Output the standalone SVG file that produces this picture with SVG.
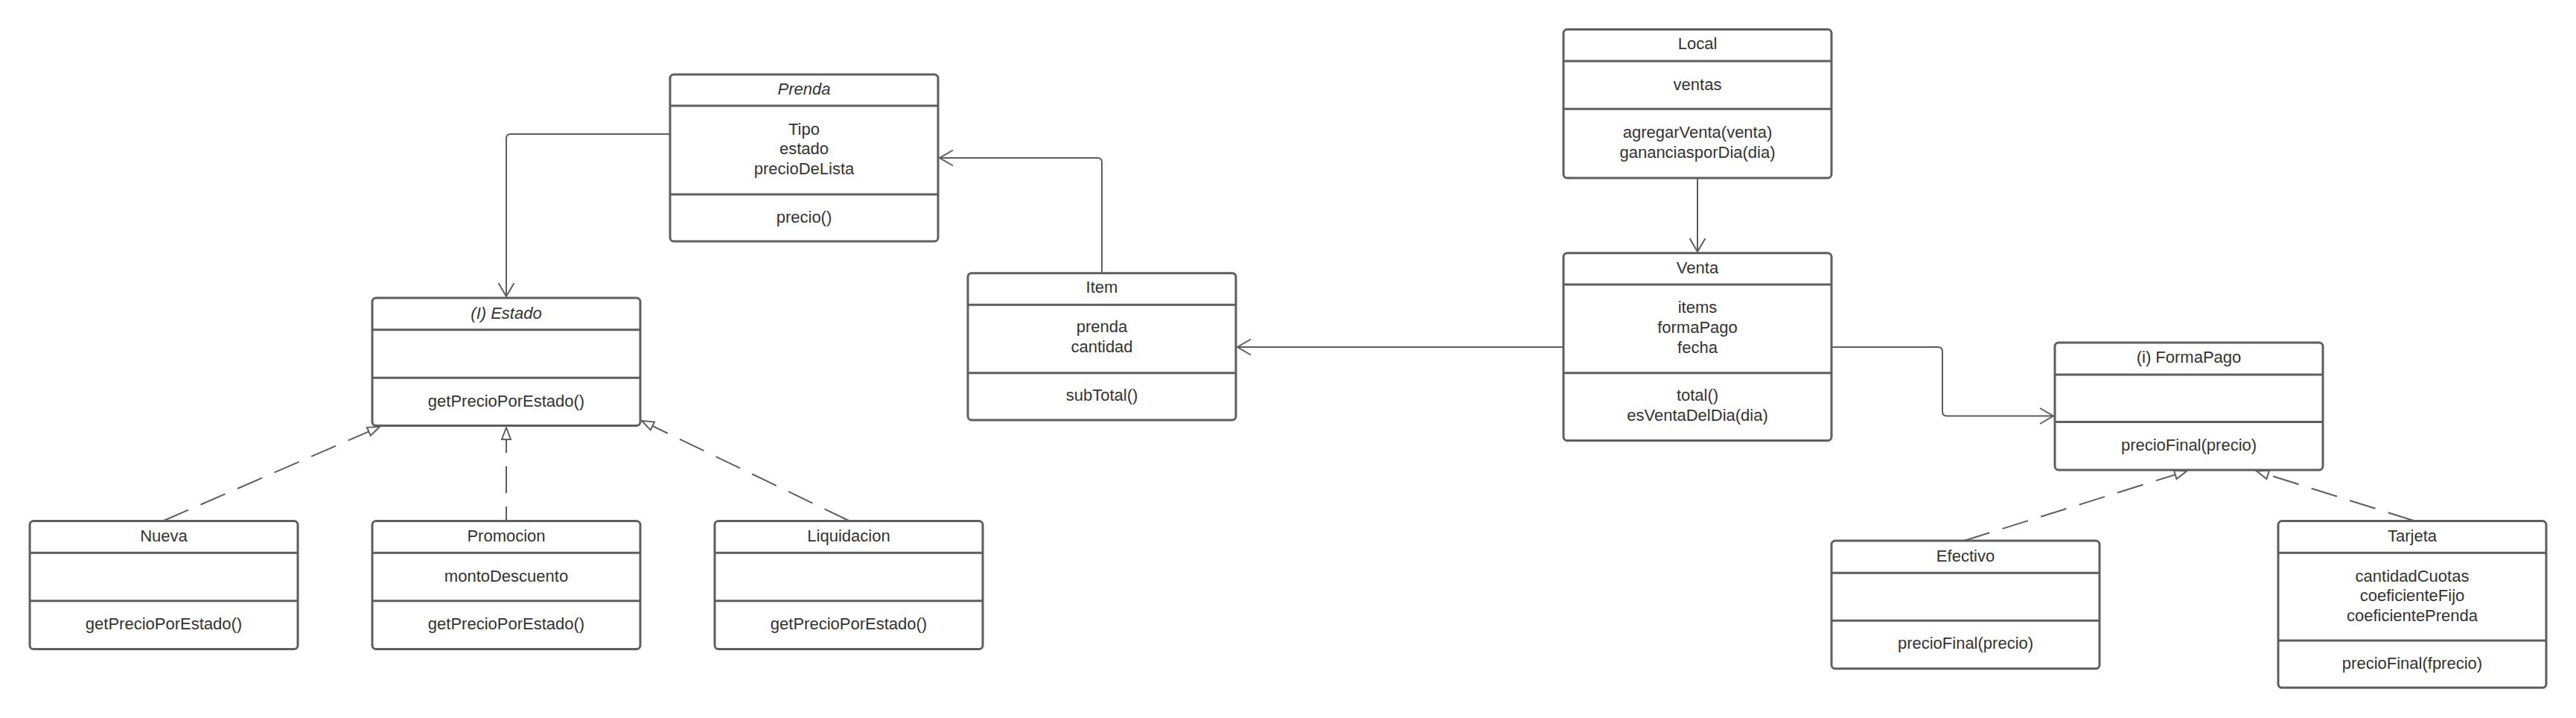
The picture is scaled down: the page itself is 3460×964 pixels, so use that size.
<svg xmlns="http://www.w3.org/2000/svg" width="3460" height="964" viewBox="0 0 3460 964">
<style>
.box rect{fill:#fff;stroke:#5e5e5e;stroke-width:3}
.box line{stroke:#5e5e5e;stroke-width:3}
text{font-family:"Liberation Sans",Arial,sans-serif;font-size:22px;fill:#333;text-anchor:middle}
.it{font-style:italic}
.conn{fill:none;stroke:#5e5e5e;stroke-width:2}
.dash{stroke-dasharray:36 18}
</style>
<defs>
<marker id="open" markerUnits="userSpaceOnUse" viewBox="-20 -12 22 24" refX="0" refY="0" markerWidth="22" markerHeight="24" orient="auto" overflow="visible">
<path d="M-18,-10.5 L0,0 L-18,10.5" fill="none" stroke="#5e5e5e" stroke-width="2"/>
</marker>
<marker id="tri" markerUnits="userSpaceOnUse" viewBox="-18 -8 20 16" refX="0" refY="0" markerWidth="20" markerHeight="16" orient="auto" overflow="visible">
<path d="M0,0 L-16,-6 L-16,6 Z" fill="#fff" stroke="#5e5e5e" stroke-width="2"/>
</marker>
</defs>
<rect width="3460" height="964" fill="#fff"/>
<g id="connectors">
<path class="conn" d="M900,180 H686 Q680,180 680,186 V398" marker-end="url(#open)"/>
<path class="conn" d="M1480,366 V218 Q1480,212 1474,212 H1262" marker-end="url(#open)"/>
<path class="conn" d="M2280,239 V338" marker-end="url(#open)"/>
<path class="conn" d="M2100,466 H1662" marker-end="url(#open)"/>
<path class="conn" d="M2460,466 H2603 Q2609,466 2609,472 V552.5 Q2609,558.5 2615,558.5 H2758" marker-end="url(#open)"/>
<path class="conn dash" d="M220,699 L510,573" marker-end="url(#tri)"/>
<path class="conn dash" d="M680,699 L680,574" stroke-dashoffset="17" marker-end="url(#tri)"/>
<path class="conn dash" d="M1140,699 L862,565" marker-end="url(#tri)"/>
<path class="conn dash" d="M2638,726 L2937,632.5" marker-end="url(#tri)"/>
<path class="conn dash" d="M3242,699 L3031,632.5" marker-end="url(#tri)"/>
</g>
<g id="prenda" class="box">
<rect x="900" y="100" width="360" height="224" rx="5"/>
<line x1="900" y1="142" x2="1260" y2="142"/>
<line x1="900" y1="261" x2="1260" y2="261"/>
<text x="1080" y="127" class="it">Prenda</text>
<text x="1080" y="180.5">Tipo</text>
<text x="1080" y="207">estado</text>
<text x="1080" y="233.5">precioDeLista</text>
<text x="1080" y="298.5">precio()</text>
</g>
<g id="estado" class="box">
<rect x="500" y="400" width="360" height="171.5" rx="5"/>
<line x1="500" y1="442.7" x2="860" y2="442.7"/>
<line x1="500" y1="507.3" x2="860" y2="507.3"/>
<text x="680" y="428" class="it">(I) Estado</text>
<text x="680" y="546">getPrecioPorEstado()</text>
</g>
<g id="nueva" class="box">
<rect x="40" y="699.5" width="360" height="172" rx="5"/>
<line x1="40" y1="742.3" x2="400" y2="742.3"/>
<line x1="40" y1="806.7" x2="400" y2="806.7"/>
<text x="220" y="727.3">Nueva</text>
<text x="220" y="844.7">getPrecioPorEstado()</text>
</g>
<g id="promocion" class="box">
<rect x="500" y="699.5" width="360" height="172" rx="5"/>
<line x1="500" y1="742.3" x2="860" y2="742.3"/>
<line x1="500" y1="806.7" x2="860" y2="806.7"/>
<text x="680" y="727.3">Promocion</text>
<text x="680" y="780.7">montoDescuento</text>
<text x="680" y="844.7">getPrecioPorEstado()</text>
</g>
<g id="liquidacion" class="box">
<rect x="960" y="699.5" width="360" height="172" rx="5"/>
<line x1="960" y1="742.3" x2="1320" y2="742.3"/>
<line x1="960" y1="806.7" x2="1320" y2="806.7"/>
<text x="1140" y="727.3">Liquidacion</text>
<text x="1140" y="844.7">getPrecioPorEstado()</text>
</g>
<g id="item" class="box">
<rect x="1300" y="366.7" width="360" height="197.3" rx="5"/>
<line x1="1300" y1="409.3" x2="1660" y2="409.3"/>
<line x1="1300" y1="500.7" x2="1660" y2="500.7"/>
<text x="1480" y="393">Item</text>
<text x="1480" y="446.3">prenda</text>
<text x="1480" y="473">cantidad</text>
<text x="1480" y="538">subTotal()</text>
</g>
<g id="local" class="box">
<rect x="2100" y="39.5" width="360" height="199.5" rx="5"/>
<line x1="2100" y1="82" x2="2460" y2="82"/>
<line x1="2100" y1="146.3" x2="2460" y2="146.3"/>
<text x="2280" y="66.3">Local</text>
<text x="2280" y="121">ventas</text>
<text x="2280" y="185">agregarVenta(venta)</text>
<text x="2280" y="211.7">gananciasporDia(dia)</text>
</g>
<g id="venta" class="box">
<rect x="2100" y="339.8" width="360" height="251.6" rx="5"/>
<line x1="2100" y1="382" x2="2460" y2="382"/>
<line x1="2100" y1="500.7" x2="2460" y2="500.7"/>
<text x="2280" y="366.7">Venta</text>
<text x="2280" y="420.3">items</text>
<text x="2280" y="447">formaPago</text>
<text x="2280" y="473.7">fecha</text>
<text x="2280" y="538.1">total()</text>
<text x="2280" y="564.6">esVentaDelDia(dia)</text>
</g>
<g id="formapago" class="box">
<rect x="2760" y="460" width="360" height="171" rx="5"/>
<line x1="2760" y1="503" x2="3120" y2="503"/>
<line x1="2760" y1="566.5" x2="3120" y2="566.5"/>
<text x="2940" y="487.2">(i) FormaPago</text>
<text x="2940" y="604.7">precioFinal(precio)</text>
</g>
<g id="efectivo" class="box">
<rect x="2460" y="726" width="360" height="171.7" rx="5"/>
<line x1="2460" y1="769.3" x2="2820" y2="769.3"/>
<line x1="2460" y1="833.3" x2="2820" y2="833.3"/>
<text x="2640" y="753.7">Efectivo</text>
<text x="2640" y="871.3">precioFinal(precio)</text>
</g>
<g id="tarjeta" class="box">
<rect x="3060" y="699.5" width="360" height="223.8" rx="5"/>
<line x1="3060" y1="742.3" x2="3420" y2="742.3"/>
<line x1="3060" y1="860" x2="3420" y2="860"/>
<text x="3240" y="727.3">Tarjeta</text>
<text x="3240" y="780.7">cantidadCuotas</text>
<text x="3240" y="807.3">coeficienteFijo</text>
<text x="3240" y="834">coeficientePrenda</text>
<text x="3240" y="898">precioFinal(fprecio)</text>
</g>
</svg>
